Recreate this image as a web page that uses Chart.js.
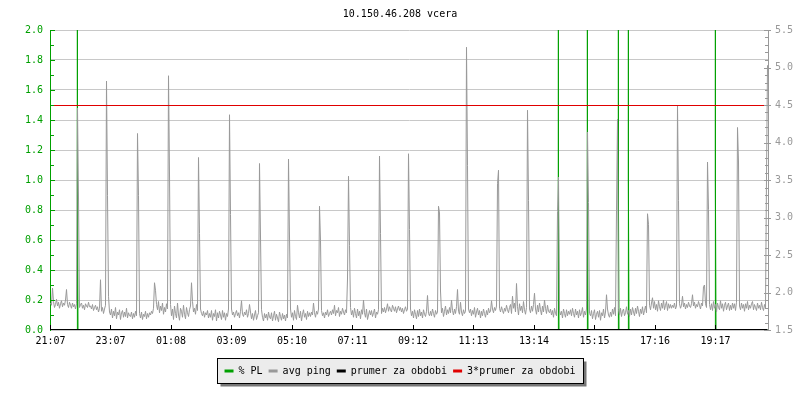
<!DOCTYPE html>
<html><head><meta charset="utf-8">
<script src="https://cdn.jsdelivr.net/npm/chart.js@4/dist/chart.umd.min.js"></script>
<style>html,body{margin:0;padding:0;background:#fff;}canvas{display:block;}</style>
</head><body>
<canvas id="c" width="800" height="400"></canvas>
<script>
// ---- data ----
const titleText = "10.150.46.208 vcera";
const tickLabels = ["21:07","23:07","01:08","03:09","05:10","07:11","09:12","11:13","13:14","15:15","17:16","19:17"];
const sampleStep = 2;       // minutes between ping samples
// avg ping (ms), one sample every 2 minutes starting at 21:07
const pingValues = [
1.86,1.83,2.06,1.88,1.80,1.84,1.91,1.82,1.87,1.79,1.85,1.89,1.81,1.86,1.83,1.90,2.04,1.84,1.80,1.87,
1.83,1.79,1.86,1.81,1.84,1.78,1.85,4.46,3.26,1.80,1.84,1.86,1.79,1.83,1.77,1.85,1.82,1.80,1.87,1.81,
1.82,1.78,1.84,1.76,1.80,1.83,1.77,1.81,1.74,1.79,2.17,1.75,1.80,1.72,1.78,1.83,4.82,3.29,1.95,1.74,
1.70,1.78,1.66,1.75,1.69,1.80,1.65,1.74,1.70,1.77,1.64,1.73,1.76,1.67,1.74,1.68,1.79,1.66,1.73,1.69,
1.68,1.74,1.65,1.72,1.67,1.75,1.69,4.12,3.29,1.72,1.66,1.74,1.64,1.71,1.68,1.75,1.65,1.72,1.67,1.73,
1.70,1.75,1.72,1.79,2.13,2.03,1.84,1.77,1.88,1.73,1.82,1.76,1.86,1.71,1.80,1.74,1.85,1.78,4.89,3.58,
1.84,1.69,1.78,1.64,1.82,1.72,1.66,1.86,1.70,1.63,1.79,1.75,1.67,1.83,1.71,1.65,1.80,1.73,1.68,1.77,
1.82,2.13,1.88,1.74,1.79,1.71,1.84,1.76,3.80,2.79,1.78,1.72,1.69,1.75,1.67,1.73,1.70,1.76,1.66,1.72,
1.67,1.76,1.63,1.72,1.68,1.77,1.62,1.73,1.66,1.75,1.70,1.64,1.76,1.67,1.73,1.63,1.72,1.68,1.78,4.37,
3.04,1.78,1.70,1.74,1.67,1.72,1.76,1.69,1.73,1.66,1.75,1.89,1.71,1.68,1.74,1.70,1.77,1.67,1.72,1.84,
1.74,1.65,1.72,1.63,1.70,1.76,1.64,1.69,1.73,3.72,2.74,1.77,1.67,1.62,1.72,1.66,1.71,1.63,1.74,1.67,
1.65,1.73,1.62,1.69,1.75,1.63,1.71,1.66,1.61,1.74,1.68,1.63,1.72,1.65,1.70,1.62,1.71,1.66,3.78,2.74,
1.78,1.67,1.73,1.63,1.76,1.68,1.64,1.83,1.73,1.66,1.75,1.62,1.71,1.77,1.67,1.72,1.64,1.75,1.68,1.73,
1.68,1.74,1.70,1.86,1.73,1.67,1.75,1.71,1.78,3.15,2.69,1.76,1.69,1.73,1.66,1.74,1.70,1.77,1.68,1.72,
1.75,1.70,1.77,1.72,1.83,1.69,1.76,1.73,1.80,1.68,1.75,1.71,1.79,1.74,1.70,1.77,1.73,2.18,3.55,2.63,
1.80,1.70,1.76,1.67,1.79,1.72,1.66,1.78,1.69,1.75,1.65,1.77,1.71,1.90,1.73,1.67,1.78,1.64,1.70,1.76,
1.70,1.76,1.68,1.73,1.78,1.66,1.74,1.71,1.77,3.82,2.79,1.72,1.79,1.74,1.80,1.73,1.78,1.85,1.75,1.81,
1.77,1.74,1.83,1.79,1.75,1.81,1.73,1.78,1.82,1.76,1.80,1.74,1.79,1.72,1.77,1.81,1.75,1.78,3.85,2.84,
1.78,1.69,1.75,1.66,1.77,1.71,1.65,1.76,1.68,1.78,1.69,1.74,1.66,1.77,1.71,1.68,1.75,1.96,1.72,1.69,
1.75,1.69,1.78,1.72,1.67,1.76,1.71,1.74,3.15,3.06,2.02,1.73,1.79,1.68,1.75,1.82,1.70,1.77,1.72,1.80,
1.73,1.90,1.76,1.70,1.78,1.72,1.81,2.04,1.75,1.71,1.87,1.74,1.69,1.77,1.72,1.75,5.27,3.69,1.78,1.73,
1.78,1.69,1.76,1.71,1.80,1.67,1.74,1.79,1.70,1.76,1.66,1.75,1.69,1.78,1.72,1.67,1.76,1.70,1.79,1.73,
1.75,1.89,1.78,1.73,1.80,1.76,1.82,3.45,3.63,1.79,1.74,1.81,1.76,1.72,1.79,1.75,1.83,1.77,1.73,1.80,
1.84,1.72,1.95,1.79,1.86,1.74,2.12,1.81,1.70,1.85,1.76,1.82,1.73,1.88,1.77,1.71,1.80,4.43,3.23,1.78,
1.73,1.82,1.75,1.84,1.99,1.78,1.71,1.83,1.74,1.86,1.77,1.70,1.82,1.74,1.90,1.79,1.72,1.83,1.75,1.73,
1.78,1.70,1.76,1.67,1.79,1.72,1.69,3.08,3.54,1.76,1.70,1.75,1.66,1.78,1.72,1.67,1.77,1.69,1.75,1.71,
1.77,1.69,1.79,1.72,1.67,1.78,1.70,1.75,1.66,1.77,1.69,1.73,1.80,1.67,1.75,1.70,1.78,4.14,3.20,1.72,
1.69,1.76,1.65,1.72,1.77,1.64,1.71,1.75,1.67,1.76,1.63,1.73,1.69,1.78,1.66,1.74,1.97,1.78,1.70,1.67,
1.74,1.68,1.78,1.71,1.80,1.69,3.09,4.31,1.77,1.70,1.79,1.68,1.75,1.78,1.69,1.73,1.81,1.71,1.76,1.68,
1.78,1.70,1.80,1.74,1.69,1.79,1.72,1.82,1.75,1.68,1.78,1.72,1.81,1.70,1.76,1.82,1.73,3.05,2.91,1.83,
1.77,1.86,1.93,1.79,1.88,1.77,1.84,1.75,1.89,1.81,1.76,1.86,1.79,1.90,1.77,1.83,1.88,1.76,1.85,1.79,
1.84,1.79,1.83,1.80,1.86,1.78,1.82,4.49,3.23,1.85,1.79,1.83,1.95,1.81,1.86,1.78,1.84,1.80,1.87,1.82,
1.80,1.85,1.97,1.82,1.87,1.79,1.84,1.81,1.88,1.83,1.78,1.86,1.82,2.08,2.10,1.85,1.80,3.74,3.11,1.84,
1.77,1.85,1.76,1.88,1.79,1.84,1.74,1.86,1.80,1.77,1.89,1.79,1.85,1.75,1.83,1.87,1.77,1.82,1.86,1.76,
1.83,1.77,1.86,1.79,1.85,1.76,1.87,4.20,3.74,1.82,1.77,1.86,1.79,1.84,1.75,1.85,1.79,1.88,1.77,1.83,
1.79,1.85,1.88,1.77,1.84,1.80,1.76,1.86,1.79,1.83,1.77,1.87,1.80,1.76,1.84,1.79,3.54,5.03
];
// packet loss (%), minute after 21:07
const plTimes  = [0, 53,53.5,54,55, 1015,1015.5,1016,1017, 1073,1073.5,1074,1075, 1135,1135.5,1136,1137, 1155,1155.5,1156,1157, 1329,1329.5,1330,1331, 1434];
const plValues = [0,  0,  10, 1, 0,    0,    10,   1,   0,    0,    10,   1,   0,    0,    10,   1,   0,    0,    10,   1,   0,    0,    10,   1,   0,    0];
const avgValue = [1.5];        // prumer za obdobi
const tripleAvgValue = [4.5];  // 3*prumer za obdobi

// ---- build ----
const FONT = "'DejaVu Sans Mono', monospace";
const GREEN = '#00a000', GRAY = '#999999', RED = '#e00000', BLACK = '#000000';
const xMin = -1, xMax = (pingValues.length - 1) * sampleStep + 1;
function minutesOf(label){
  const [h,m] = label.split(':').map(Number);
  const [h0,m0] = tickLabels[0].split(':').map(Number);
  return ((h*60+m) - (h0*60+m0) + 1440) % 1440;
}
const tickMinutes = tickLabels.map(minutesOf);
const pingData = pingValues.map((v,i)=>({x:i*sampleStep, y:v}));
const plData = plTimes.map((t,i)=>({x:t, y:plValues[i]}));
const lastT = (pingValues.length - 1) * sampleStep;
const avgData = [{x:0,y:avgValue[0]},{x:lastT,y:avgValue[0]}];
const tripleData = [{x:0,y:tripleAvgValue[0]},{x:lastT,y:tripleAvgValue[0]}];

const bgAndLegendBox = {
  id:'bgAndLegendBox',
  beforeDraw(chart){
    const ctx = chart.ctx;
    ctx.save();
    ctx.fillStyle = '#fff';
    ctx.fillRect(0,0,chart.width,chart.height);
    const hb = chart.legend && chart.legend.legendHitBoxes;
    if (hb && hb.length){
      const f = hb[0], l = hb[hb.length-1];
      const cy = f.top + f.height/2;
      const left = Math.round(f.left - 8) + 0.5, right = Math.round(l.left + l.width + 8) + 0.5;
      const top = Math.round(cy - 13) + 0.5, bottom = Math.round(cy + 12) + 0.5;
      ctx.fillStyle = '#777';
      ctx.fillRect(left+3, top+3, right-left, bottom-top);
      ctx.fillStyle = '#ececec';
      ctx.fillRect(left, top, right-left, bottom-top);
      ctx.strokeStyle = '#000'; ctx.lineWidth = 1;
      ctx.strokeRect(left, top, right-left, bottom-top);
    }
    ctx.restore();
  },
  beforeDatasetDraw(chart, args){
    if (args.index === 3){ chart.ctx.save(); chart.ctx.translate(0, 0.5); }
  },
  afterDatasetDraw(chart, args){
    if (args.index === 3){ chart.ctx.restore(); }
  }
};
const axisTicks = {
  id:'axisTicks',
  afterDraw(chart){
    const {ctx, chartArea:a, scales:{x,y,y1}} = chart;
    ctx.save(); ctx.lineWidth = 1;
    ctx.strokeStyle = GREEN;
    for (let k=1;k<=20;k++){
      const py = Math.round(y.getPixelForValue(k/10)) + 0.5;
      const len = k%2===0 ? 5 : 4;
      ctx.beginPath(); ctx.moveTo(a.left, py); ctx.lineTo(a.left+len, py); ctx.stroke();
    }
    ctx.strokeStyle = GRAY;
    for (let k=15;k<=55;k++){
      const py = Math.round(y1.getPixelForValue(k/10)) + 0.5;
      ctx.beginPath();
      if (k%5===0){ ctx.moveTo(a.right-4, py); ctx.lineTo(a.right+3, py); }
      else { ctx.moveTo(a.right-3, py); ctx.lineTo(a.right, py); }
      ctx.stroke();
    }
    ctx.strokeStyle = BLACK;
    tickMinutes.forEach(m=>{
      const px = Math.floor(x.getPixelForValue(m)) + 0.5;
      ctx.beginPath(); ctx.moveTo(px, a.bottom); ctx.lineTo(px, a.bottom-5); ctx.stroke();
    });
    ctx.restore();
  }
};

new Chart(document.getElementById('c'), {
  type:'line',
  data:{datasets:[
    {label:'% PL', data:plData, yAxisID:'y', borderColor:GREEN, backgroundColor:GREEN, borderWidth:1, pointRadius:0, order:4},
    {label:'avg ping', data:pingData, yAxisID:'y1', borderColor:GRAY, backgroundColor:GRAY, borderWidth:1, pointRadius:0, order:3},
    {label:'prumer za obdobi', data:avgData, yAxisID:'y1', borderColor:BLACK, backgroundColor:BLACK, borderWidth:2, pointRadius:0, order:2},
    {label:'3*prumer za obdobi', data:tripleData, yAxisID:'y1', borderColor:RED, backgroundColor:RED, borderWidth:1, pointRadius:0, order:1}
  ]},
  options:{
    responsive:false, animation:false, events:[],
    layout:{padding:{left:0,right:0,top:0,bottom:14}},
    elements:{line:{tension:0, borderJoinStyle:'bevel'}, point:{radius:0}},
    scales:{
      x:{type:'linear', min:xMin, max:xMax,
        grid:{display:false, drawTicks:false}, border:{display:false},
        afterBuildTicks:s=>{ s.ticks = tickMinutes.map(v=>({value:v})); },
        afterFit:s=>{ s.height = 30; },
        ticks:{autoSkip:false, maxRotation:0, minRotation:0, padding:5, color:BLACK,
          font:{family:FONT,size:10}, callback:(v,i)=>tickLabels[i]}},
      y:{position:'left', min:0, max:2,
        afterFit:s=>{ s.width = 50; },
        grid:{color:'#c8c8c8', lineWidth:1, drawTicks:false},
        border:{color:GREEN, width:1},
        ticks:{stepSize:0.2, padding:7, color:GREEN, font:{family:FONT,size:10}, callback:v=>Number(v).toFixed(1)}},
      y1:{position:'right', min:1.5, max:5.5,
        afterFit:s=>{ s.width = 32; },
        grid:{display:false, drawTicks:false},
        border:{color:GRAY, width:1},
        ticks:{stepSize:0.5, padding:7, color:GRAY, font:{family:FONT,size:10}, callback:v=>Number(v).toFixed(1)}}
    },
    plugins:{
      title:{display:true, text:titleText, color:BLACK, font:{family:FONT,size:10,weight:'normal'}, padding:{top:8,bottom:10}},
      legend:{position:'bottom', labels:{boxWidth:9, boxHeight:3, padding:6, color:BLACK,
        font:{family:FONT,size:10},
        generateLabels:ch=>ch.data.datasets.map((d,i)=>({text:d.label, fillStyle:d.borderColor, strokeStyle:d.borderColor, lineWidth:0, datasetIndex:i, hidden:false, fontColor:BLACK})),
        sort:(a,b)=>a.datasetIndex-b.datasetIndex}},
      tooltip:{enabled:false}
    }
  },
  plugins:[bgAndLegendBox, axisTicks]
});
</script>
</body></html>
